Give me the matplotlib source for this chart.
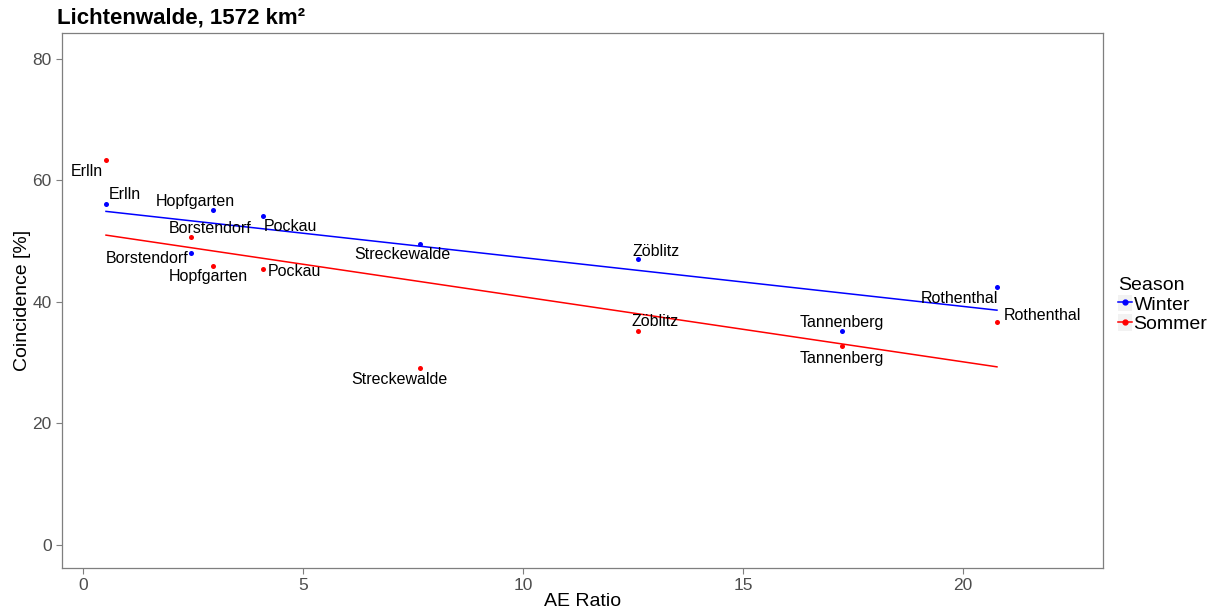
import numpy as np
import matplotlib
matplotlib.use("Agg")
import matplotlib.pyplot as plt
from matplotlib.legend_handler import HandlerLine2D
from matplotlib.lines import Line2D
from matplotlib.patches import Rectangle

plt.rcParams['font.family'] = ['Liberation Sans', 'DejaVu Sans']

stations = ["Erlln", "Borstendorf", "Hopfgarten", "Pockau",
            "Streckewalde", "Zöblitz", "Tannenberg", "Rothenthal"]
ae_ratio = [0.52, 2.45, 2.95, 4.09, 7.66, 12.61, 17.25, 20.77]
winter = [56.1, 48.0, 55.1, 54.1, 49.5, 47.0, 35.2, 42.4]
sommer = [63.3, 50.7, 45.9, 45.4, 29.1, 35.2, 32.7, 36.7]
seasons = ["Winter", "Sommer"]
x_ticks = [0, 5, 10, 15, 20]
y_ticks = [0, 20, 40, 60, 80]

colors = {"Winter": "#0000FF", "Sommer": "#FF0000"}
# label offsets (pixels) to keep names clear of points
offsets = {
    "Winter": [(19, 9), (-44, -5), (-18, 8), (27, -11),
               (-18, -11), (18, 8), (0, 8), (-38, -11)],
    "Sommer": [(-19, -11), (19, 8), (-5, -11), (31, -3),
               (-21, -12), (17, 9), (0, -12), (45, 6)],
}

fig = plt.figure(figsize=(12.18, 6.10), dpi=100)
ax = fig.add_axes([62 / 1218, 1 - 568 / 610, (1103 - 62) / 1218, (568 - 33) / 610])

x = np.array(ae_ratio)
for season, vals in zip(seasons, [winter, sommer]):
    y = np.array(vals)
    c = colors[season]
    slope, icpt = np.polyfit(x, y, 1)
    xl = np.array([x.min(), x.max()])
    ax.plot(xl, icpt + slope * xl, color=c, lw=1.1, zorder=2)
    ax.scatter(x, y, s=13, color=c, zorder=3, linewidths=0)
    for name, xi, yi, (dx, dy) in zip(stations, x, y, offsets[season]):
        ax.annotate(name, (xi, yi), xytext=(dx, dy), textcoords="offset pixels",
                    ha="center", va="center", fontsize=11.5, color="black")

ax.set_xlim(-0.48, 23.18)
ax.set_ylim(-3.8, 84.2)
ax.set_xticks(x_ticks)
ax.set_yticks(y_ticks)
ax.tick_params(colors="#7F7F7F", labelcolor="#4D4D4D", labelsize=12.5,
               length=4, width=0.8)
for sp in ax.spines.values():
    sp.set_color("#7F7F7F")
    sp.set_linewidth(0.9)

ax.set_xlabel("AE Ratio", fontsize=14, labelpad=0)
ax.set_ylabel("Coincidence [%]", fontsize=14, labelpad=1)
fig.text(57 / 1218, 1 - 18 / 610, "Lichtenwalde, 1572 km²", fontsize=16,
         fontweight="bold", ha="left", va="center")


class KeyHandler(HandlerLine2D):
    def create_artists(self, legend, orig_handle, xdescent, ydescent,
                       width, height, fontsize, trans):
        bg = Rectangle((-xdescent, -ydescent), width, height,
                       facecolor="#F2F2F2", edgecolor="none", transform=trans)
        arts = super().create_artists(legend, orig_handle, xdescent, ydescent,
                                      width, height, fontsize, trans)
        return [bg] + list(arts)


handles = [Line2D([], [], color=colors[s], marker="o", markersize=3.5, lw=1.1)
           for s in seasons]
leg = fig.legend(handles, seasons, title="Season", loc="center left",
                 bbox_to_anchor=(1118 / 1218, 1 - 305 / 610), frameon=False,
                 fontsize=14, title_fontsize=14, handlelength=0.7,
                 handleheight=0.9, handletextpad=0.1, labelspacing=0.05,
                 borderpad=0.0, borderaxespad=0.0, alignment="left",
                 handler_map={Line2D: KeyHandler(numpoints=1)})

fig.savefig("out.png", dpi=100)
